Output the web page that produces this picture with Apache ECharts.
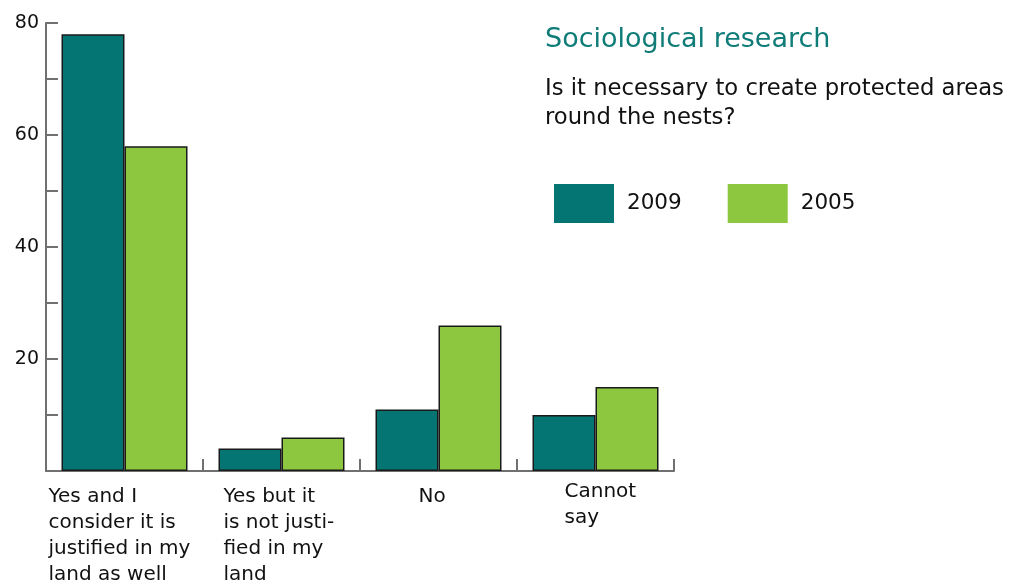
<!DOCTYPE html>
<html>
<head>
<meta charset="utf-8">
<script src="https://cdn.jsdelivr.net/npm/echarts@6/dist/echarts.min.js"></script>
<style>html,body{margin:0;padding:0;background:#fff}#c{width:1019px;height:581px}</style>
</head>
<body>
<div id="c"></div>
<script>
const categories = [
  "Yes and I\nconsider it is\njustified in my\nland as well",
  "Yes but it\nis not justi-\nfied in my\nland",
  "No",
  "Cannot\nsay"
];
const values2009 = [78, 4, 11, 10];
const values2005 = [58, 6, 26, 15];
const yTickLabels = [20, 40, 60, 80];
const titleText = "Sociological research";
const questionText = "Is it necessary to create protected areas\nround the nests?";

const labelPads = [[0,0,0,-76],[0,0,0,-58],[0,0,0,-20],[-5,0,0,-31]];
const FONT = "DejaVu Sans";

const chart = echarts.init(document.getElementById('c'), null, {renderer: 'canvas'});
chart.setOption({
  animation: false,
  backgroundColor: '#fff',
  title: {
    text: titleText,
    subtext: questionText,
    left: 545,
    top: 26,
    padding: [0, 0, 0, 0],
    itemGap: 22,
    textStyle: {color: '#0f7c78', fontFamily: FONT, fontWeight: 'normal', fontSize: 27},
    subtextStyle: {color: '#111', fontFamily: FONT, fontSize: 22.7, lineHeight: 29}
  },
  legend: {
    left: 554,
    top: 184,
    padding: 0,
    itemWidth: 60,
    itemHeight: 39,
    itemGap: 46,
    icon: 'rect',
    itemStyle: {borderWidth: 0},
    textStyle: {color: '#111', fontFamily: FONT, fontSize: 21.5, padding: [0,0,0,8]},
    data: ['2009', '2005']
  },
  grid: {left: 46, right: 345, top: 23, bottom: 110, containLabel: false, outerBoundsMode: 'none'},
  xAxis: {
    type: 'category',
    data: categories.map((c, i) => ({
      value: c,
      textStyle: {align: 'left', verticalAlign: 'top', padding: labelPads[i]}
    })),
    axisLine: {lineStyle: {color: '#707070', width: 2}},
    axisTick: {show: true, inside: true, length: 12, alignWithLabel: false, lineStyle: {color: '#707070', width: 2}},
    axisLabel: {
      show: true, interval: 0, align: 'left', verticalAlign: 'top', margin: 13,
      color: '#111', fontFamily: FONT, fontSize: 20, lineHeight: 25.8
    },
    splitLine: {show: false}
  },
  yAxis: {
    type: 'value',
    min: 0, max: 80, interval: 10,
    axisLine: {show: true, lineStyle: {color: '#707070', width: 2}},
    axisTick: {show: true, inside: true, length: 12, lineStyle: {color: '#707070', width: 2}},
    axisLabel: {
      margin: 7, color: '#111', fontFamily: FONT, fontSize: 19,
      formatter: v => yTickLabels.indexOf(v) >= 0 ? String(v) : ''
    },
    splitLine: {show: false}
  },
  series: [
    {name: '2009', type: 'bar', data: values2009, barWidth: 63, barGap: '0%',
     itemStyle: {color: '#047572', borderColor: '#1a1a1a', borderWidth: 1.5}},
    {name: '2005', type: 'bar', data: values2005, barWidth: 63, barGap: '0%',
     itemStyle: {color: '#8dc63f', borderColor: '#1a1a1a', borderWidth: 1.5}}
  ]
});
</script>
</body>
</html>
